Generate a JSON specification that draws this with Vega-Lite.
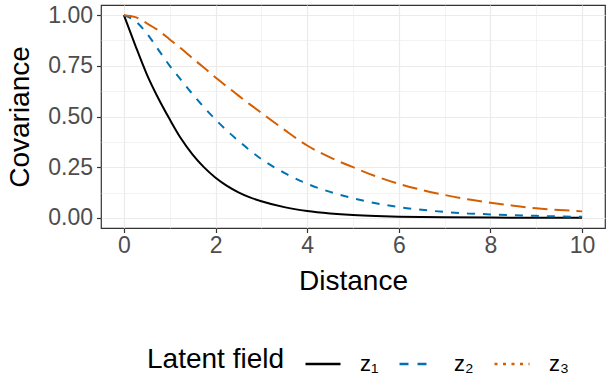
{
  "$schema": "https://vega.github.io/schema/vega-lite/v6.json",
  "width": 504,
  "height": 223,
  "autosize": {"type": "none"},
  "padding": {"left": 101, "top": 5, "right": 2, "bottom": 149},
  "background": "white",
  "config": {
    "font": "Liberation Sans",
    "view": {"stroke": "#333333", "strokeWidth": 1.2},
    "axis": {
      "domain": false,
      "gridColor": "#EBEBEB",
      "tickColor": "#333333",
      "tickWidth": 1.2,
      "tickSize": 4.5,
      "labelColor": "#4D4D4D",
      "labelFont": "Liberation Sans",
      "labelFontSize": 23,
      "titleFont": "Liberation Sans",
      "titleFontSize": 28,
      "titleFontWeight": "normal",
      "titleColor": "#000000"
    }
  },
  "data": {
    "values": [
      {"d": 0, "cov": 1.0, "field": "z₁"},
      {"d": 0.25, "cov": 0.85, "field": "z₁"},
      {"d": 0.5, "cov": 0.708, "field": "z₁"},
      {"d": 0.75, "cov": 0.59, "field": "z₁"},
      {"d": 1, "cov": 0.486, "field": "z₁"},
      {"d": 1.25, "cov": 0.39, "field": "z₁"},
      {"d": 1.5, "cov": 0.312, "field": "z₁"},
      {"d": 1.75, "cov": 0.249, "field": "z₁"},
      {"d": 2, "cov": 0.198, "field": "z₁"},
      {"d": 2.25, "cov": 0.158, "field": "z₁"},
      {"d": 2.5, "cov": 0.126, "field": "z₁"},
      {"d": 2.75, "cov": 0.101, "field": "z₁"},
      {"d": 3, "cov": 0.082, "field": "z₁"},
      {"d": 3.5, "cov": 0.053, "field": "z₁"},
      {"d": 4, "cov": 0.034, "field": "z₁"},
      {"d": 4.5, "cov": 0.022, "field": "z₁"},
      {"d": 5, "cov": 0.014, "field": "z₁"},
      {"d": 5.5, "cov": 0.009, "field": "z₁"},
      {"d": 6, "cov": 0.006, "field": "z₁"},
      {"d": 7, "cov": 0.0028, "field": "z₁"},
      {"d": 8, "cov": 0.0012, "field": "z₁"},
      {"d": 9, "cov": 0.0005, "field": "z₁"},
      {"d": 10, "cov": 0.0002, "field": "z₁"},
      {"d": 0, "cov": 1.0, "field": "z₂"},
      {"d": 0.25, "cov": 0.97, "field": "z₂"},
      {"d": 0.5, "cov": 0.91, "field": "z₂"},
      {"d": 0.75, "cov": 0.83, "field": "z₂"},
      {"d": 1, "cov": 0.75, "field": "z₂"},
      {"d": 1.25, "cov": 0.68, "field": "z₂"},
      {"d": 1.5, "cov": 0.61, "field": "z₂"},
      {"d": 1.75, "cov": 0.545, "field": "z₂"},
      {"d": 2, "cov": 0.485, "field": "z₂"},
      {"d": 2.25, "cov": 0.43, "field": "z₂"},
      {"d": 2.5, "cov": 0.38, "field": "z₂"},
      {"d": 2.75, "cov": 0.333, "field": "z₂"},
      {"d": 3, "cov": 0.29, "field": "z₂"},
      {"d": 3.5, "cov": 0.222, "field": "z₂"},
      {"d": 4, "cov": 0.168, "field": "z₂"},
      {"d": 4.5, "cov": 0.128, "field": "z₂"},
      {"d": 5, "cov": 0.097, "field": "z₂"},
      {"d": 5.5, "cov": 0.072, "field": "z₂"},
      {"d": 6, "cov": 0.053, "field": "z₂"},
      {"d": 6.5, "cov": 0.04, "field": "z₂"},
      {"d": 7, "cov": 0.029, "field": "z₂"},
      {"d": 7.5, "cov": 0.022, "field": "z₂"},
      {"d": 8, "cov": 0.017, "field": "z₂"},
      {"d": 8.5, "cov": 0.013, "field": "z₂"},
      {"d": 9, "cov": 0.01, "field": "z₂"},
      {"d": 9.5, "cov": 0.007, "field": "z₂"},
      {"d": 10, "cov": 0.005, "field": "z₂"},
      {"d": 0, "cov": 1.0, "field": "z₃"},
      {"d": 0.25, "cov": 0.99, "field": "z₃"},
      {"d": 0.5, "cov": 0.96, "field": "z₃"},
      {"d": 0.75, "cov": 0.925, "field": "z₃"},
      {"d": 1, "cov": 0.88, "field": "z₃"},
      {"d": 1.25, "cov": 0.835, "field": "z₃"},
      {"d": 1.5, "cov": 0.787, "field": "z₃"},
      {"d": 1.75, "cov": 0.74, "field": "z₃"},
      {"d": 2, "cov": 0.692, "field": "z₃"},
      {"d": 2.25, "cov": 0.648, "field": "z₃"},
      {"d": 2.5, "cov": 0.603, "field": "z₃"},
      {"d": 2.75, "cov": 0.56, "field": "z₃"},
      {"d": 3, "cov": 0.518, "field": "z₃"},
      {"d": 3.5, "cov": 0.435, "field": "z₃"},
      {"d": 4, "cov": 0.357, "field": "z₃"},
      {"d": 4.5, "cov": 0.298, "field": "z₃"},
      {"d": 5, "cov": 0.25, "field": "z₃"},
      {"d": 5.5, "cov": 0.205, "field": "z₃"},
      {"d": 6, "cov": 0.168, "field": "z₃"},
      {"d": 6.5, "cov": 0.138, "field": "z₃"},
      {"d": 7, "cov": 0.113, "field": "z₃"},
      {"d": 7.5, "cov": 0.092, "field": "z₃"},
      {"d": 8, "cov": 0.075, "field": "z₃"},
      {"d": 8.5, "cov": 0.06, "field": "z₃"},
      {"d": 9, "cov": 0.047, "field": "z₃"},
      {"d": 9.5, "cov": 0.039, "field": "z₃"},
      {"d": 10, "cov": 0.032, "field": "z₃"}
    ]
  },
  "encoding": {
    "x": {
      "field": "d",
      "type": "quantitative",
      "scale": {"domain": [-0.5, 10.5], "nice": false, "zero": false},
      "axis": {
        "title": "Distance",
        "values": [0, 1, 2, 3, 4, 5, 6, 7, 8, 9, 10],
        "labelExpr": "datum.value % 2 == 0 ? datum.label : ''",
        "labelPadding": 2,
        "titlePadding": 10,
        "gridWidth": {"condition": {"test": "datum.value % 2 == 1", "value": 0.6}, "value": 1.2},
        "tickOpacity": {"condition": {"test": "datum.value % 2 == 1", "value": 0}, "value": 1}
      }
    },
    "y": {
      "field": "cov",
      "type": "quantitative",
      "scale": {"domain": [-0.05, 1.05], "nice": false, "zero": false},
      "axis": {
        "title": "Covariance",
        "values": [0, 0.125, 0.25, 0.375, 0.5, 0.625, 0.75, 0.875, 1],
        "format": ".2f",
        "labelExpr": "abs(datum.value * 4 - round(datum.value * 4)) > 0.01 ? '' : datum.label",
        "labelPadding": 4,
        "titlePadding": 13,
        "gridWidth": {"condition": {"test": "abs(datum.value * 4 - round(datum.value * 4)) > 0.01", "value": 0.6}, "value": 1.2},
        "tickOpacity": {"condition": {"test": "abs(datum.value * 4 - round(datum.value * 4)) > 0.01", "value": 0}, "value": 1}
      }
    },
    "color": {
      "field": "field",
      "type": "nominal",
      "scale": {"domain": ["z₁", "z₂", "z₃"], "range": ["#000000", "#0072B2", "#D55E00"]},
      "legend": {
        "title": "Latent field",
        "orient": "none",
        "legendX": 46,
        "legendY": 340,
        "direction": "horizontal",
        "titleOrient": "left",
        "titleFontSize": 28,
        "titleFontWeight": "normal",
        "titleColor": "#000000",
        "titlePadding": 20,
        "titleBaseline": "middle",
        "labelFontSize": 22,
        "labelColor": "#000000",
        "labelOffset": 18,
        "columnPadding": 15,
        "symbolType": "stroke",
        "symbolSize": 1225,
        "symbolStrokeWidth": 2.5,
        "encode": {
          "symbols": {
            "update": {
              "strokeDash": {"signal": "datum.value == 'z₃' ? [3, 5.5] : (datum.value == 'z₂' ? [9, 9] : [1, 0])"}
            }
          }
        }
      }
    }
  },
  "layer": [
    {
      "transform": [{"filter": "datum.field == 'z₁'"}],
      "mark": {"type": "line", "strokeWidth": 2, "interpolate": "monotone"}
    },
    {
      "transform": [{"filter": "datum.field == 'z₂'"}],
      "mark": {"type": "line", "strokeWidth": 2, "interpolate": "monotone", "strokeDash": [8, 8]}
    },
    {
      "transform": [{"filter": "datum.field == 'z₃'"}],
      "mark": {"type": "line", "strokeWidth": 2, "interpolate": "monotone", "strokeDash": [15, 7]}
    }
  ]
}
